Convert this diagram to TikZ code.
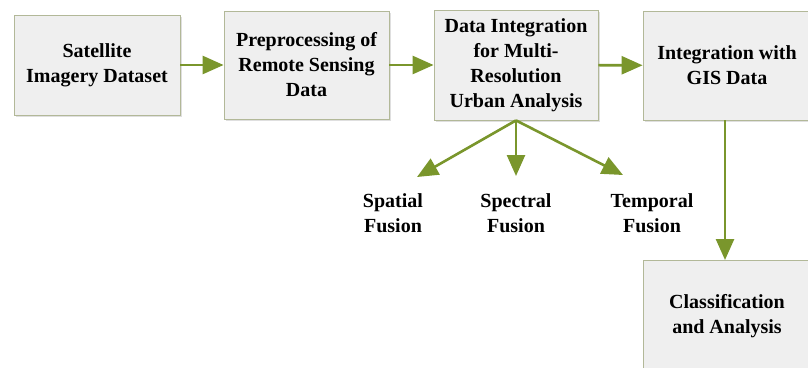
\documentclass[tikz,border=0pt]{standalone}
\usepackage{fontspec}
\setmainfont{Liberation Serif}
\usetikzlibrary{arrows.meta,shadows}
\definecolor{flowgreen}{RGB}{122,150,44}
\definecolor{boxline}{RGB}{178,184,152}
\definecolor{boxfill}{RGB}{239,239,239}
\tikzset{
  stagebox/.style={draw=boxline, line width=0.8pt, fill=boxfill, align=center,
    font=\bfseries\fontsize{20}{25}\selectfont, inner sep=0pt,
    drop shadow={shadow xshift=1.5pt, shadow yshift=-1.5pt, opacity=0.25}},
  fusionlabel/.style={align=center, font=\bfseries\fontsize{20}{25}\selectfont},
  flow/.style={draw=flowgreen, line width=2.6pt,
    -{Triangle[length=21pt, width=18pt, fill=flowgreen]}}
}
\begin{document}
\begin{tikzpicture}[x=1pt, y=-1pt]
\useasboundingbox (0,0) rectangle (808,367);
% top row
\node [stagebox, minimum width=166pt, minimum height=100pt] (sat) at (97,65)
  {Satellite\\Imagery Dataset};
\node [stagebox, minimum width=165pt, minimum height=108pt] (pre) at (306.5,65)
  {Preprocessing of\\Remote Sensing\\Data};
\node [stagebox, minimum width=164pt, minimum height=110pt] (integ) at (516,65)
  {Data Integration\\for Multi-\\Resolution\\Urban Analysis};
\node [stagebox, minimum width=168pt, minimum height=109pt] (gis) at (727,65.5)
  {Integration with\\GIS Data};
% bottom box
\node [stagebox, minimum width=168pt, minimum height=112pt] (cls) at (727,316)
  {Classification\\and Analysis};
% fusion labels
\node [fusionlabel] (spat) at (393,213) {Spatial\\Fusion};
\node [fusionlabel] (spec) at (516,213) {Spectral\\Fusion};
\node [fusionlabel] (temp) at (652,213) {Temporal\\Fusion};
\coordinate (spatend) at (417,177);
\coordinate (specend) at (516,176);
\coordinate (tempend) at (623,175);

\draw [flow] (sat) -- (pre);
\draw [flow] (pre) -- (integ);
\draw [flow] (integ) -- (gis);
\draw [flow] (integ.south) -- (spatend);
\draw [flow] (integ.south) -- (specend);
\draw [flow] (integ.south) -- (tempend);
\draw [flow] (gis.south -| 725,0) -- (725,260);
\end{tikzpicture}
\end{document}
